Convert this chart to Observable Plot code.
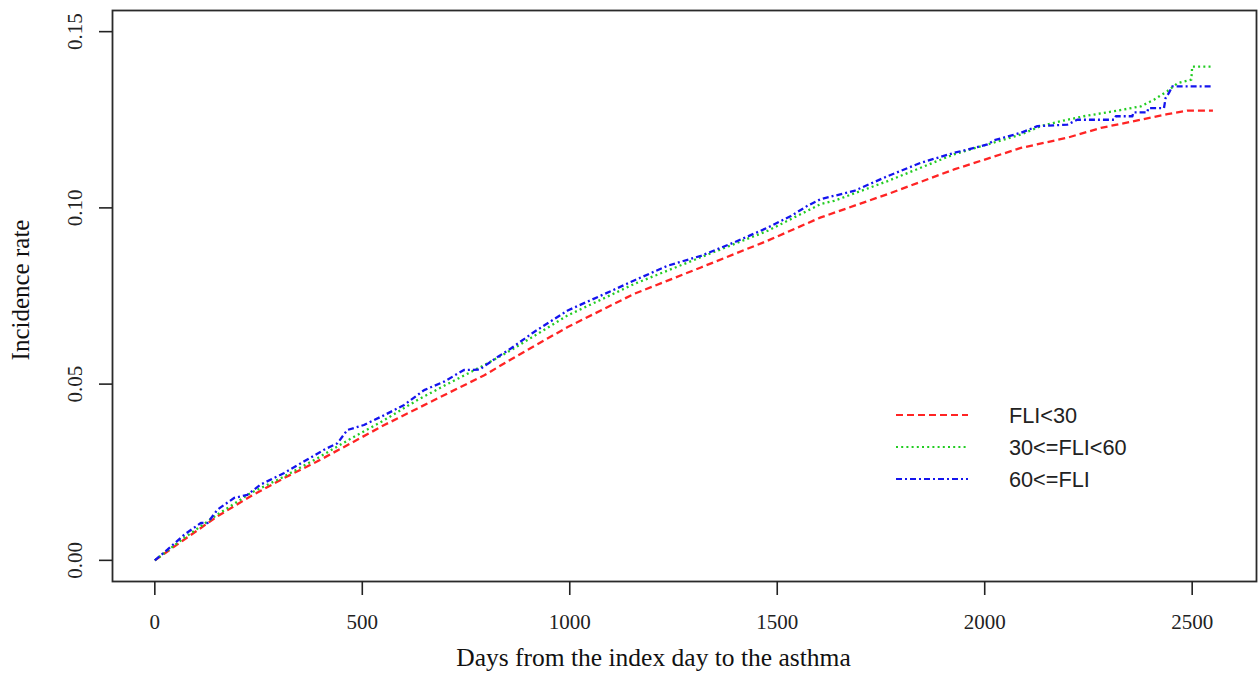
<!DOCTYPE html>
<html>
<head>
<meta charset="utf-8">
<script src="https://cdn.jsdelivr.net/npm/d3@7"></script>
<script src="https://cdn.jsdelivr.net/npm/@observablehq/plot@0.6"></script>
<style>
  html, body { margin: 0; padding: 0; background: #fff; }
  #wrap { position: relative; width: 1260px; height: 674px; }
  #legend { position: absolute; left: 0; top: 0; pointer-events: none; }
</style>
</head>
<body>
<div id="wrap"></div>
<script>
// ---- data ----
const seriesNames = ["FLI<30", "30<=FLI<60", "60<=FLI"];
const seriesColors = ["#ff2424", "#22cc22", "#1414ee"];
const seriesDash = ["7,4", "2,3.2", "6,3,2,3"];

const xTicks = [0, 500, 1000, 1500, 2000, 2500];
const yTicks = [0.00, 0.05, 0.10, 0.15];
const xTitle = "Days from the index day to the asthma";
const yTitle = "Incidence rate";

// FLI<30
const redDays = [0, 71, 151, 231, 312, 392, 472, 553, 633, 713, 794, 858, 995, 1155, 1316, 1477, 1605, 1766, 1926, 2087, 2199, 2280, 2360, 2440, 2488, 2550];
const redRate = [0, 0.0059, 0.0125, 0.0182, 0.0234, 0.0281, 0.0332, 0.0384, 0.0431, 0.0478, 0.0525, 0.0570, 0.0662, 0.0756, 0.0831, 0.0907, 0.0973, 0.1039, 0.1109, 0.1170, 0.1199, 0.1227, 0.1246, 0.1266, 0.1276, 0.1276];

// 30<=FLI<60
const greenDays = [0, 71, 151, 231, 312, 392, 472, 553, 633, 713, 794, 858, 995, 1155, 1316, 1477, 1605, 1637, 1766, 1926, 2087, 2135, 2183, 2239, 2320, 2376, 2408, 2440, 2465, 2498, 2500, 2550];
const greenRate = [0, 0.0064, 0.0130, 0.0191, 0.0238, 0.0290, 0.0345, 0.0398, 0.0455, 0.0505, 0.0554, 0.0596, 0.0695, 0.0784, 0.0860, 0.0935, 0.1011, 0.1020, 0.1076, 0.1152, 0.1208, 0.1232, 0.1246, 0.1260, 0.1276, 0.1288, 0.1307, 0.1331, 0.1354, 0.1364, 0.1401, 0.1401];

// 60<=FLI
const blueDays = [0, 31, 71, 111, 127, 151, 191, 223, 255, 312, 360, 408, 440, 464, 504, 553, 601, 649, 697, 745, 782, 826, 858, 914, 995, 1075, 1155, 1236, 1316, 1396, 1477, 1533, 1573, 1605, 1685, 1766, 1846, 1926, 2007, 2023, 2087, 2127, 2199, 2223, 2312, 2316, 2356, 2358, 2392, 2394, 2432, 2436, 2444, 2452, 2550];
const blueRate = [0, 0.0031, 0.0073, 0.0106, 0.0106, 0.0144, 0.0177, 0.0186, 0.0215, 0.0248, 0.0281, 0.0314, 0.0332, 0.0370, 0.0384, 0.0412, 0.0441, 0.0483, 0.0507, 0.0540, 0.0541, 0.0577, 0.0601, 0.0648, 0.0709, 0.0751, 0.0794, 0.0836, 0.0864, 0.0902, 0.0944, 0.0977, 0.1006, 0.1025, 0.1048, 0.1090, 0.1128, 0.1156, 0.1180, 0.1192, 0.1213, 0.1232, 0.1236, 0.1250, 0.1250, 0.1260, 0.1260, 0.1271, 0.1271, 0.1283, 0.1283, 0.1312, 0.1326, 0.1345, 0.1345];

const seriesDays = [redDays, greenDays, blueDays];
const seriesRate = [redRate, greenRate, blueRate];

// ---- chart ----
const serif = "'Liberation Serif', 'Times New Roman', serif";
const sans = "'Liberation Sans', Arial, sans-serif";

const lineMarks = seriesNames.map((name, i) =>
  Plot.line(seriesDays[i].map((d, j) => ({day: d, rate: seriesRate[i][j]})), {
    x: "day", y: "rate",
    stroke: seriesColors[i], strokeWidth: 2.3, strokeDasharray: seriesDash[i],
    strokeLinecap: "butt"
  })
);

const chart = Plot.plot({
  width: 1260,
  height: 674,
  marginLeft: 112,
  marginRight: 4,
  marginTop: 10,
  marginBottom: 93,
  style: {fontFamily: serif, fontSize: "21px", background: "#fff", color: "#222"},
  x: {type: "linear", domain: [-102, 2655]},
  y: {type: "linear", domain: [-0.006, 0.156]},
  marks: [
    ...lineMarks,
    Plot.frame({stroke: "#2a2a2a", strokeWidth: 1.8}),
    Plot.axisX(xTicks, {tickSize: 14, tickPadding: 19, fontSize: 21, label: null, strokeWidth: 1.6, tickFormat: d => String(d)}),
    Plot.axisY(yTicks, {tickSize: 13, label: null, strokeWidth: 1.6, tickFormat: () => ""}),
    Plot.text(yTicks, {y: d => d, text: d => d3.format(".2f")(d), frameAnchor: "left", textAnchor: "middle", dx: -37, rotate: -90, fontSize: 21, fill: "#222"}),
    Plot.text([xTitle], {text: d => d, frameAnchor: "bottom", textAnchor: "middle", dx: -31, dy: 84, fontSize: 25.5, fill: "#111"}),
    Plot.text([yTitle], {text: d => d, frameAnchor: "left", textAnchor: "middle", dx: -92, dy: -6, rotate: -90, fontSize: 25, fill: "#111"})
  ]
});

const wrap = document.getElementById("wrap");
wrap.appendChild(chart);

// ---- legend (no box, like R bty="n") ----
const leg = d3.select(wrap).append("svg")
  .attr("id", "legend")
  .attr("width", 1260).attr("height", 674);
const g = leg.selectAll("g").data(seriesNames).join("g")
  .attr("transform", (d, i) => `translate(896, ${415 + i * 32})`);
g.append("line")
  .attr("x1", 0).attr("x2", 72).attr("y1", 0).attr("y2", 0)
  .attr("stroke", (d, i) => seriesColors[i])
  .attr("stroke-width", 2)
  .attr("stroke-dasharray", (d, i) => seriesDash[i]);
g.append("text")
  .attr("x", 113).attr("y", 0).attr("dy", "0.35em")
  .attr("font-family", sans).attr("font-size", 21.7).attr("fill", "#222")
  .text(d => d);
</script>
</body>
</html>
